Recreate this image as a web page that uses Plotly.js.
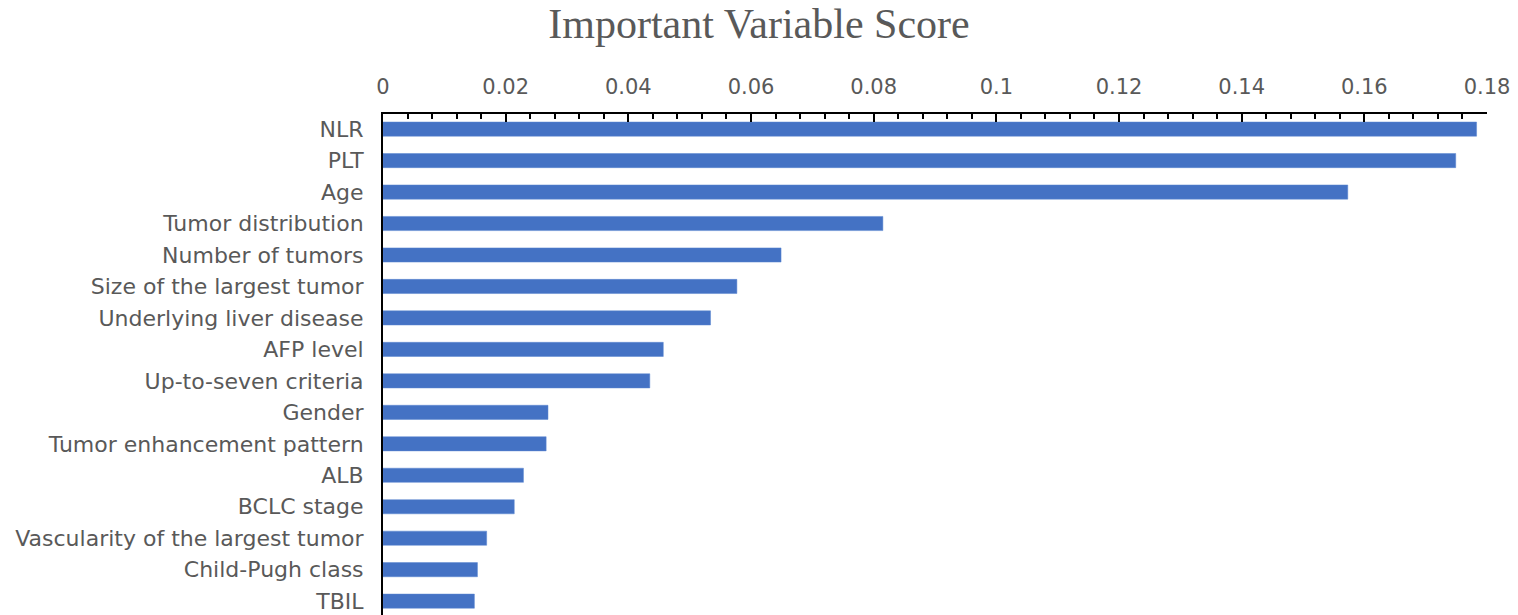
<!DOCTYPE html>
<html>
<head>
<meta charset="utf-8">
<script src="https://cdn.plot.ly/plotly-3.0.1.min.js"></script>
<style>html,body{margin:0;padding:0;background:#fff;}#chart{width:1518px;height:615px;}</style>
</head>
<body>
<div id="chart"></div>
<script>
const variables = ["NLR","PLT","Age","Tumor distribution","Number of tumors","Size of the largest tumor","Underlying liver disease","AFP level","Up-to-seven criteria","Gender","Tumor enhancement pattern","ALB","BCLC stage","Vascularity of the largest tumor","Child-Pugh class","TBIL"];
const scores = [0.1783,0.1749,0.1573,0.0815,0.0649,0.0577,0.0534,0.0457,0.0435,0.0269,0.0266,0.0229,0.0214,0.0169,0.0154,0.0149];
const tickVals = [0,0.02,0.04,0.06,0.08,0.1,0.12,0.14,0.16,0.18];
const tickText = ["0","0.02","0.04","0.06","0.08","0.1","0.12","0.14","0.16","0.18"];

const trace = {
  type: "bar",
  orientation: "h",
  x: scores,
  y: variables,
  width: 0.45,
  marker: {color: "#4472C4", line: {color: "#5B86D0", width: 0.5}},
  hoverinfo: "x+y"
};

const layout = {
  width: 1518,
  height: 615,
  margin: {l: 383, r: 31, t: 114, b: 0},
  paper_bgcolor: "#ffffff",
  plot_bgcolor: "#ffffff",
  showlegend: false,
  title: {
    text: "Important Variable Score",
    font: {family: "Liberation Serif, Times New Roman, serif", size: 42, color: "#595959"},
    x: 0.5, xanchor: "center", y: 0.962, yanchor: "middle"
  },
  xaxis: {
    side: "top",
    range: [0, 0.18],
    tickvals: tickVals,
    ticktext: tickText,
    ticks: "inside",
    ticklen: 8,
    tickwidth: 2,
    tickcolor: "#000",
    minor: {dtick: 0.004, tick0: 0, ticks: "inside", ticklen: 5, tickwidth: 2, tickcolor: "#000", showgrid: false},
    showline: true,
    linecolor: "#000",
    linewidth: 2,
    showgrid: false,
    zeroline: false,
    ticklabelstandoff: 10,
    tickfont: {family: "DejaVu Sans, sans-serif", size: 21, color: "#595959"},
    fixedrange: true
  },
  yaxis: {
    type: "category",
    range: [15.44, -0.48],
    showline: true,
    linecolor: "#000",
    linewidth: 2,
    ticks: "",
    showgrid: false,
    zeroline: false,
    ticklabelstandoff: 13,
    tickfont: {family: "DejaVu Sans, sans-serif", size: 22, color: "#595959"},
    fixedrange: true
  },
  bargap: 0.55
};

Plotly.newPlot("chart", [trace], layout, {displayModeBar: false, staticPlot: true});
</script>
</body>
</html>
